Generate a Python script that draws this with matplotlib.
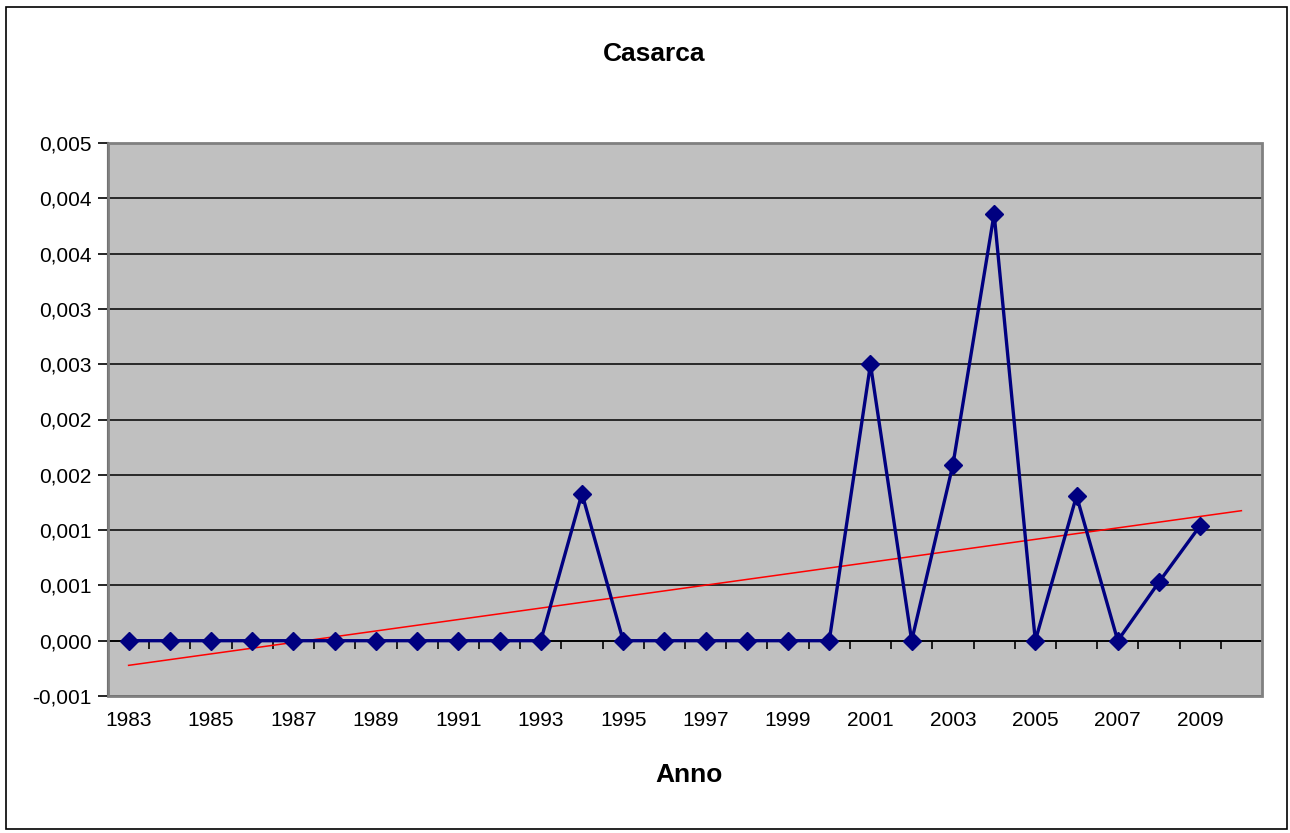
import numpy as np
import matplotlib
matplotlib.use("Agg")
import matplotlib.pyplot as plt
from matplotlib.patches import Rectangle

plt.rcParams['font.family'] = ['Liberation Sans', 'DejaVu Sans']

# dati
anni = list(range(1983, 2010))
valori = [0, 0, 0, 0, 0, 0, 0, 0, 0, 0, 0,
          0.00133, 0, 0, 0, 0, 0, 0,
          0.00250, 0, 0.00159, 0.00386, 0, 0.00131, 0, 0.00053, 0.00104]
anni_asse = list(range(1983, 2011))  # categoria in piu' per la tendenza
etichette_x = [str(a) for a in range(1983, 2010, 2)]
tick_y = [-0.0005, 0, 0.0005, 0.001, 0.0015, 0.002, 0.0025, 0.003, 0.0035, 0.004, 0.0045]
etichette_y = ["-0,001", "0,000", "0,001", "0,001", "0,002", "0,002",
               "0,003", "0,003", "0,004", "0,004", "0,005"]

fig = plt.figure(figsize=(12.9, 8.33), dpi=100)
fig.patches.append(Rectangle((0.005, 0.005), 0.993, 0.987, transform=fig.transFigure,
                             fill=False, edgecolor='black', linewidth=1.2))

ax = fig.add_axes([108 / 1290, 1 - 696 / 833, (1262 - 108) / 1290, (696 - 143) / 833])
ax.set_facecolor('#C0C0C0')

x = np.arange(len(anni))
x_asse = np.arange(len(anni_asse))

# griglia orizzontale
for t in tick_y:
    ax.axhline(t, color='black', linewidth=1.1, zorder=1)

# linea di tendenza (regressione lineare, prolungata di un periodo)
coef = np.polyfit(x, valori, 1)
ax.plot(x_asse, np.polyval(coef, x_asse), color='#FF0000', linewidth=1.1, zorder=3)

ax.plot(x, valori, color='#000080', linewidth=2.4, marker='D', markersize=9.5,
        markerfacecolor='#000080', markeredgecolor='#000080', zorder=4)

ax.set_xlim(-0.5, len(anni_asse) - 0.5)
ax.set_ylim(tick_y[0], tick_y[-1])

ax.set_yticks(tick_y)
ax.set_yticklabels(etichette_y, fontsize=15)
ax.tick_params(axis='y', direction='out', length=7, width=1.2, color='black', pad=5)

# asse x a quota zero con tacche ai confini di categoria
for s in ['top', 'right']:
    ax.spines[s].set_visible(False)
ax.spines['bottom'].set_position(('data', 0))
ax.spines['bottom'].set_linewidth(1.2)
ax.spines['left'].set_linewidth(1.5)
ax.set_xticks(x_asse[:-1] + 0.5)
ax.set_xticklabels([])
ax.tick_params(axis='x', direction='out', length=6, width=1.2, color='black')
ax.add_patch(Rectangle((0, 0), 1, 1, transform=ax.transAxes, fill=False,
                       edgecolor='#808080', linewidth=2, zorder=5, clip_on=False))

sec = ax.secondary_xaxis('bottom')
sec.set_xticks(x_asse[:-1:2])
sec.set_xticklabels(etichette_x, fontsize=15)
sec.tick_params(length=0, pad=11)
sec.spines['bottom'].set_visible(False)

fig.text(654 / 1290, 1 - 54 / 833, "Casarca", ha='center', va='center',
         fontsize=19, fontweight='bold')
fig.text(689 / 1290, 1 - 775 / 833, "Anno", ha='center', va='center',
         fontsize=19, fontweight='bold')

fig.savefig("out.png", dpi=100)
